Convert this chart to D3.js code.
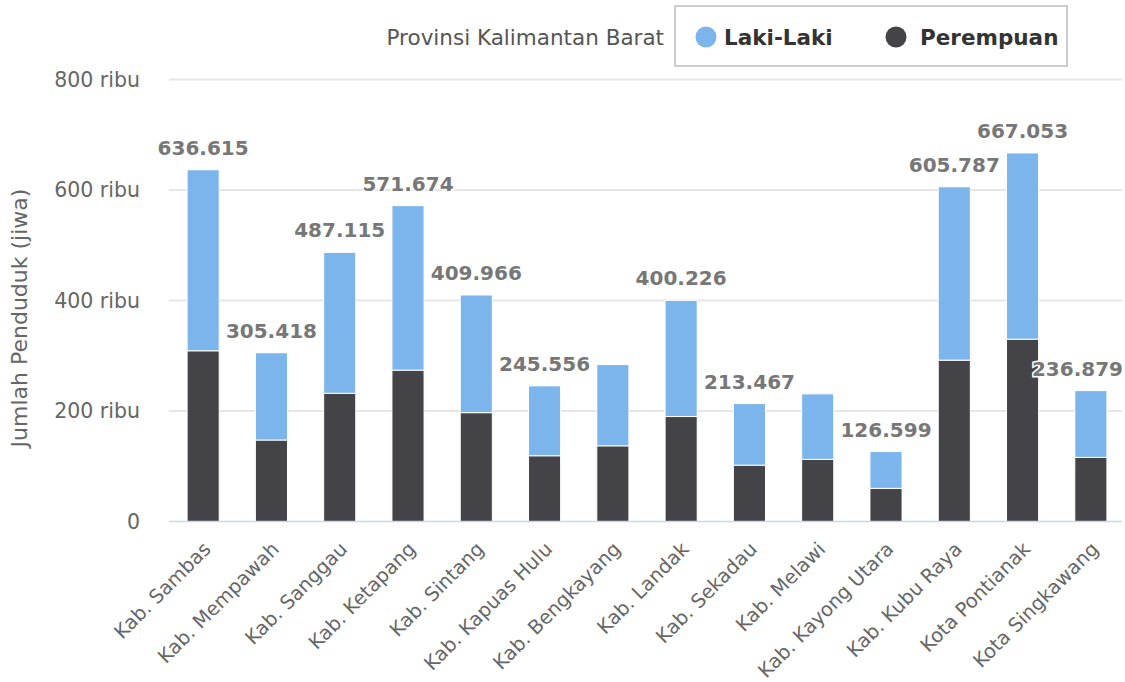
<!DOCTYPE html>
<html>
<head>
<meta charset="utf-8">
<script src="https://cdn.jsdelivr.net/npm/d3@7"></script>
<style>
  body { margin: 0; background: #fff; }
  svg { display: block; font-family: "DejaVu Sans", Verdana, sans-serif; }
</style>
</head>
<body>
<svg id="chart" width="1125" height="682"></svg>
<script>
// data
const categories = ["Kab. Sambas", "Kab. Mempawah", "Kab. Sanggau", "Kab. Ketapang", "Kab. Sintang",
  "Kab. Kapuas Hulu", "Kab. Bengkayang", "Kab. Landak", "Kab. Sekadau", "Kab. Melawi",
  "Kab. Kayong Utara", "Kab. Kubu Raya", "Kota Pontianak", "Kota Singkawang"];
const perempuan = [309000, 147500, 232000, 274000, 197000, 119000, 137000, 190000, 102000, 112500, 60000, 292000, 330000, 116000];
const lakiLaki = [327615, 157918, 255115, 297674, 212966, 126556, 147000, 210226, 111467, 118500, 66599, 313787, 337053, 120879];
const yTicks = [0, 200000, 400000, 600000, 800000];
// totals whose label is not shown (overlapping neighbours)
const hiddenLabels = ["Kab. Bengkayang", "Kab. Melawi"];

const svg = d3.select("#chart");
const plot = { left: 169, right: 1125, top: 79.5, bottom: 521.5 };

const x = d3.scaleBand().domain(categories).range([plot.left, plot.right]).paddingInner(0.53).paddingOuter(0.265);
const y = d3.scaleLinear().domain([0, 800000]).range([plot.bottom, plot.top]);

const fmt = v => d3.format(",")(v).replace(/,/g, ".");

// gridlines
svg.append("g").selectAll("line").data(yTicks.filter(d => d > 0)).join("line")
  .attr("x1", plot.left).attr("x2", 1122)
  .attr("y1", d => y(d)).attr("y2", d => y(d))
  .attr("stroke", "#e6e6e6").attr("stroke-width", 2);

// y axis labels
const yAxis = svg.append("g").attr("transform", `translate(${plot.left},0)`)
  .call(d3.axisLeft(y).tickValues(yTicks).tickSize(0).tickPadding(29)
    .tickFormat(d => d === 0 ? "0" : (d / 1000) + " ribu"));
yAxis.select(".domain").remove();
yAxis.selectAll("text").attr("font-size", 20.5).attr("fill", "#666").attr("font-family", "DejaVu Sans");

svg.append("text")
  .attr("transform", `translate(27,318) rotate(-90)`)
  .attr("text-anchor", "middle").attr("font-size", 22).attr("fill", "#666")
  .text("Jumlah Penduduk (jiwa)");

// stacked bars
const rows = categories.map((c, i) => ({ cat: c, Perempuan: perempuan[i], Laki: lakiLaki[i] }));
const stack = d3.stack().keys(["Perempuan", "Laki"])(rows);
const colors = { Perempuan: "#434348", Laki: "#7cb5ec" };

svg.append("g").selectAll("g").data(stack).join("g")
  .attr("fill", s => colors[s.key])
  .selectAll("rect").data(s => s).join("rect")
  .attr("x", d => x(d.data.cat))
  .attr("width", x.bandwidth())
  .attr("y", d => y(d[1]))
  .attr("height", d => y(d[0]) - y(d[1]))
  .attr("stroke", "#fff").attr("stroke-width", 1);

// x axis baseline
svg.append("line")
  .attr("x1", plot.left).attr("x2", 1122)
  .attr("y1", plot.bottom).attr("y2", plot.bottom)
  .attr("stroke", "#ccd6eb").attr("stroke-width", 1.5);

// x labels
svg.append("g").selectAll("text").data(categories).join("text")
  .attr("transform", d => `translate(${x(d) + x.bandwidth() / 2 + 4},${plot.bottom + 24}) rotate(-45)`)
  .attr("text-anchor", "end").attr("dy", "0.35em")
  .attr("font-size", 19.5).attr("fill", "#666")
  .text(d => d);

// total labels
const labels = svg.append("g").selectAll("text")
  .data(rows.filter(r => !hiddenLabels.includes(r.cat))).join("text")
  .attr("x", d => x(d.cat) + x.bandwidth() / 2)
  .attr("y", d => y(d.Perempuan + d.Laki) - 15)
  .attr("text-anchor", "middle")
  .attr("font-size", 20).attr("font-weight", "bold").attr("fill", "#777")
  .attr("stroke", "#fff").attr("stroke-width", 3).attr("paint-order", "stroke")
  .text(d => fmt(d.Perempuan + d.Laki));
// keep labels inside the right edge
labels.each(function () {
  const b = this.getBBox();
  if (b.x + b.width > 1123) d3.select(this).attr("x", +d3.select(this).attr("x") - (b.x + b.width - 1123));
});

// title + legend
svg.append("text").attr("x", 664).attr("y", 45).attr("text-anchor", "end")
  .attr("font-size", 21.5).attr("fill", "#555")
  .text("Provinsi Kalimantan Barat");

const legend = svg.append("g");
legend.append("rect").attr("x", 675).attr("y", 6).attr("width", 392).attr("height", 60)
  .attr("fill", "#fff").attr("stroke", "#ccc").attr("stroke-width", 2);
const items = [{ name: "Laki-Laki", key: "Laki", cx: 706, tx: 724 }, { name: "Perempuan", key: "Perempuan", cx: 896, tx: 920 }];
legend.selectAll("circle").data(items).join("circle")
  .attr("cx", d => d.cx).attr("cy", 37).attr("r", 10.5).attr("fill", d => colors[d.key]);
legend.selectAll("text").data(items).join("text")
  .attr("x", d => d.tx).attr("y", 45)
  .attr("font-weight", "bold")
  .attr("font-size", 21.5).attr("fill", "#333")
  .text(d => d.name);
</script>
</body>
</html>
